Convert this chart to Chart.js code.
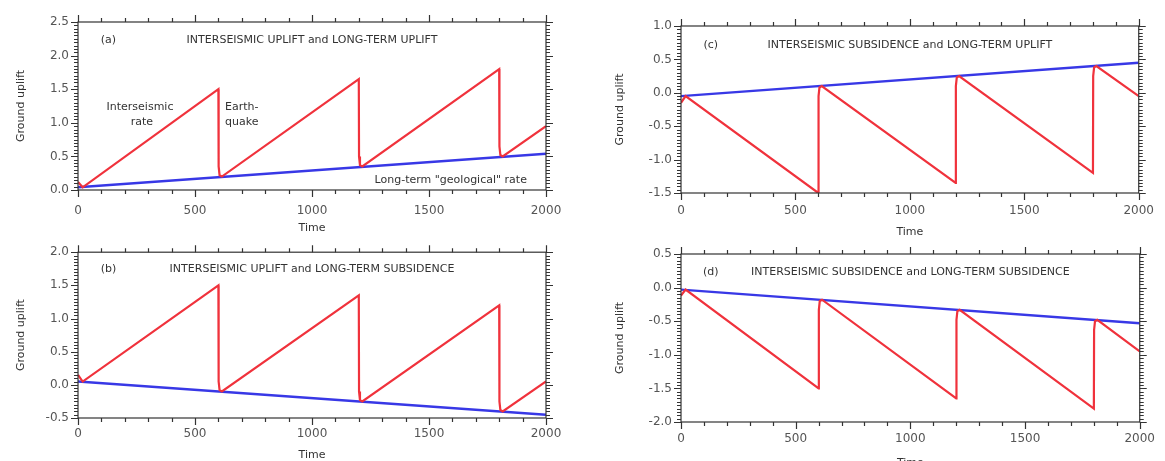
<!DOCTYPE html>
<html>
<head>
<meta charset="utf-8">
<script src="https://cdn.jsdelivr.net/npm/chart.js@4.4.1/dist/chart.umd.min.js"></script>
<style>
  html, body { margin: 0; padding: 0; background: #fff; width: 1165px; height: 461px; overflow: hidden; }
  .panel { position: absolute; }
</style>
</head>
<body>
<div class="panel" id="pa" style="left:0px;top:0px"><canvas id="chartA" width="580" height="236"></canvas></div>
<div class="panel" id="pb" style="left:0px;top:236px"><canvas id="chartB" width="580" height="230"></canvas></div>
<div class="panel" id="pc" style="left:582px;top:0px"><canvas id="chartC" width="583" height="240"></canvas></div>
<div class="panel" id="pd" style="left:582px;top:236px"><canvas id="chartD" width="583" height="235"></canvas></div>
<script>
// time axis (years) shared by the sawtooth curves
const times = [0, 20, 600, 601, 605, 615, 1200, 1201, 1205, 1215, 1800, 1801, 1805, 1815, 2000];
const longTermTimes = [0, 2000];
const timeTicks = [0, 500, 1000, 1500, 2000];

// (a) interseismic uplift, long-term uplift
const upliftA = [0.12, 0.04, 1.50, 0.35, 0.22, 0.20, 1.65, 0.50, 0.37, 0.35, 1.80, 0.65, 0.52, 0.50, 0.95];
const longTermA = [0.04, 0.54];
// (b) interseismic uplift, long-term subsidence
const upliftB = [0.15, 0.05, 1.50, 0.05, -0.08, -0.10, 1.35, -0.10, -0.23, -0.25, 1.20, -0.25, -0.38, -0.40, 0.05];
const longTermB = [0.05, -0.45];
// (c) interseismic subsidence, long-term uplift
const upliftC = [-0.15, -0.05, -1.50, -0.05, 0.08, 0.10, -1.35, 0.10, 0.23, 0.25, -1.20, 0.25, 0.38, 0.40, -0.05];
const longTermC = [-0.05, 0.45];
// (d) interseismic subsidence, long-term subsidence
const upliftD = [-0.12, -0.03, -1.50, -0.33, -0.20, -0.18, -1.65, -0.48, -0.35, -0.33, -1.80, -0.63, -0.50, -0.48, -0.95];
const longTermD = [-0.03, -0.53];

const yRangeA = [0, 2.5];
const yRangeB = [-0.5, 2.0];
const yRangeC = [-1.5, 1.0];
const yRangeD = [-2.0, 0.5];

const panelTags = ['(a)', '(b)', '(c)', '(d)'];
const panelTitles = [
  'INTERSEISMIC UPLIFT and LONG-TERM UPLIFT',
  'INTERSEISMIC UPLIFT and LONG-TERM SUBSIDENCE',
  'INTERSEISMIC SUBSIDENCE and LONG-TERM UPLIFT',
  'INTERSEISMIC SUBSIDENCE and LONG-TERM SUBSIDENCE'
];
// notes of panel (a): text, time, uplift
const notesA = [
  ['Interseismic', 265, 1.23],
  ['rate', 273, 1.01],
  ['Earth-', 700, 1.23],
  ['quake', 700, 1.01],
  ['Long-term "geological" rate', 1593, 0.15]
];

const FONT = '"DejaVu Sans", Verdana, sans-serif';
const RED = '#f0323c';
const BLUE = '#3838e6';

function pts(xs, ys) {
  return xs.map((x, i) => ({ x: x, y: ys[i] }));
}

// frame, ticks on all four sides and the in-plot texts
const frameTicks = {
  id: 'frameTicks',
  afterDatasetsDraw(chart, args, opts) {
    const { ctx, chartArea: a, scales: { x, y } } = chart;
    ctx.save();
    ctx.strokeStyle = '#333';
    ctx.lineWidth = 1.2;
    ctx.strokeRect(a.left, a.top, a.right - a.left, a.bottom - a.top);
    ctx.beginPath();
    for (let t = 0; t <= 2000; t += 100) {
      const px = Math.round(x.getPixelForValue(t)) + 0.5;
      const len = timeTicks.includes(t) ? 7 : 4;
      ctx.moveTo(px, a.bottom); ctx.lineTo(px, a.bottom + len);
      ctx.moveTo(px, a.top); ctx.lineTo(px, a.top - len);
    }
    const n = Math.round((y.max - y.min) / 0.05);
    for (let i = 0; i <= n; i++) {
      const py = Math.round(y.getPixelForValue(y.min + i * 0.05)) + 0.5;
      const len = i % 10 === 0 ? 7 : 4;
      ctx.moveTo(a.left, py); ctx.lineTo(a.left - len, py);
      ctx.moveTo(a.right, py); ctx.lineTo(a.right + len, py);
    }
    ctx.stroke();

    ctx.fillStyle = '#333';
    ctx.font = '11px ' + FONT;
    ctx.textAlign = 'center';
    ctx.textBaseline = 'middle';
    const ty = a.top + opts.titleDy;
    ctx.fillText(opts.tag, x.getPixelForValue(130), ty);
    ctx.fillText(opts.title, x.getPixelForValue(1000), ty);
    (opts.notes || []).forEach(n => {
      ctx.fillText(n[0], x.getPixelForValue(n[1]), y.getPixelForValue(n[2]));
    });
    ctx.restore();
  }
};

function makePanel(id, cfg) {
  const canvas = document.getElementById(id);
  const W = canvas.width, H = canvas.height;
  return new Chart(canvas, {
    type: 'line',
    data: {
      datasets: [
        { data: pts(times, cfg.red), borderColor: RED, borderWidth: 2.2, pointRadius: 0, tension: 0 },
        { data: pts(longTermTimes, cfg.blue), borderColor: BLUE, borderWidth: 2.4, pointRadius: 0, tension: 0 }
      ]
    },
    options: {
      responsive: false,
      animation: false,
      events: [],
      layout: { padding: { left: 0, top: cfg.box[2], right: W - cfg.box[1], bottom: 0 } },
      plugins: {
        legend: { display: false },
        tooltip: { enabled: false },
        frameTicks: { tag: cfg.tag, title: cfg.title, titleDy: cfg.titleDy, notes: cfg.notes }
      },
      scales: {
        x: {
          type: 'linear', min: 0, max: 2000,
          grid: { display: false, drawTicks: false },
          border: { display: false },
          ticks: { stepSize: 500, padding: cfg.xPad, color: '#555', font: { family: FONT, size: 12 },
                   callback: v => String(v) },
          title: { display: true, text: 'Time', color: '#333', font: { family: FONT, size: 11 },
                   padding: { top: 0, bottom: cfg.timePad } },
          afterFit: s => { s.height = H - cfg.box[3]; }
        },
        y: {
          min: cfg.yRange[0], max: cfg.yRange[1],
          grid: { display: false, drawTicks: false },
          border: { display: false },
          ticks: { stepSize: 0.5, padding: 9, color: '#555', font: { family: FONT, size: 12 },
                   callback: v => v.toFixed(1) },
          title: { display: true, text: 'Ground uplift', color: '#333', font: { family: FONT, size: 11 },
                   padding: { top: cfg.yTitlePad, bottom: 0 } },
          afterFit: s => { s.width = cfg.box[0]; }
        }
      }
    },
    plugins: [frameTicks]
  });
}

// box = [left, right, top, bottom] of the plot area inside each canvas
makePanel('chartA', { red: upliftA, blue: longTermA, yRange: yRangeA, box: [78, 546, 22, 190],
  tag: panelTags[0], title: panelTitles[0], titleDy: 18, notes: notesA, xPad: 14, timePad: 1.4, yTitlePad: 15 });
makePanel('chartB', { red: upliftB, blue: longTermB, yRange: yRangeB, box: [78, 546, 15, 182],
  tag: panelTags[1], title: panelTitles[1], titleDy: 17, xPad: 9, timePad: 4.4, yTitlePad: 15 });
makePanel('chartC', { red: upliftC, blue: longTermC, yRange: yRangeC, box: [99, 568, 26, 193],
  tag: panelTags[2], title: panelTitles[2], titleDy: 19, xPad: 11, timePad: 1.4, yTitlePad: 32 });
makePanel('chartD', { red: upliftD, blue: longTermD, yRange: yRangeD, box: [99, 568, 18, 186],
  tag: panelTags[3], title: panelTitles[3], titleDy: 18, xPad: 10, timePad: 1.4, yTitlePad: 32 });
</script>
</body>
</html>
